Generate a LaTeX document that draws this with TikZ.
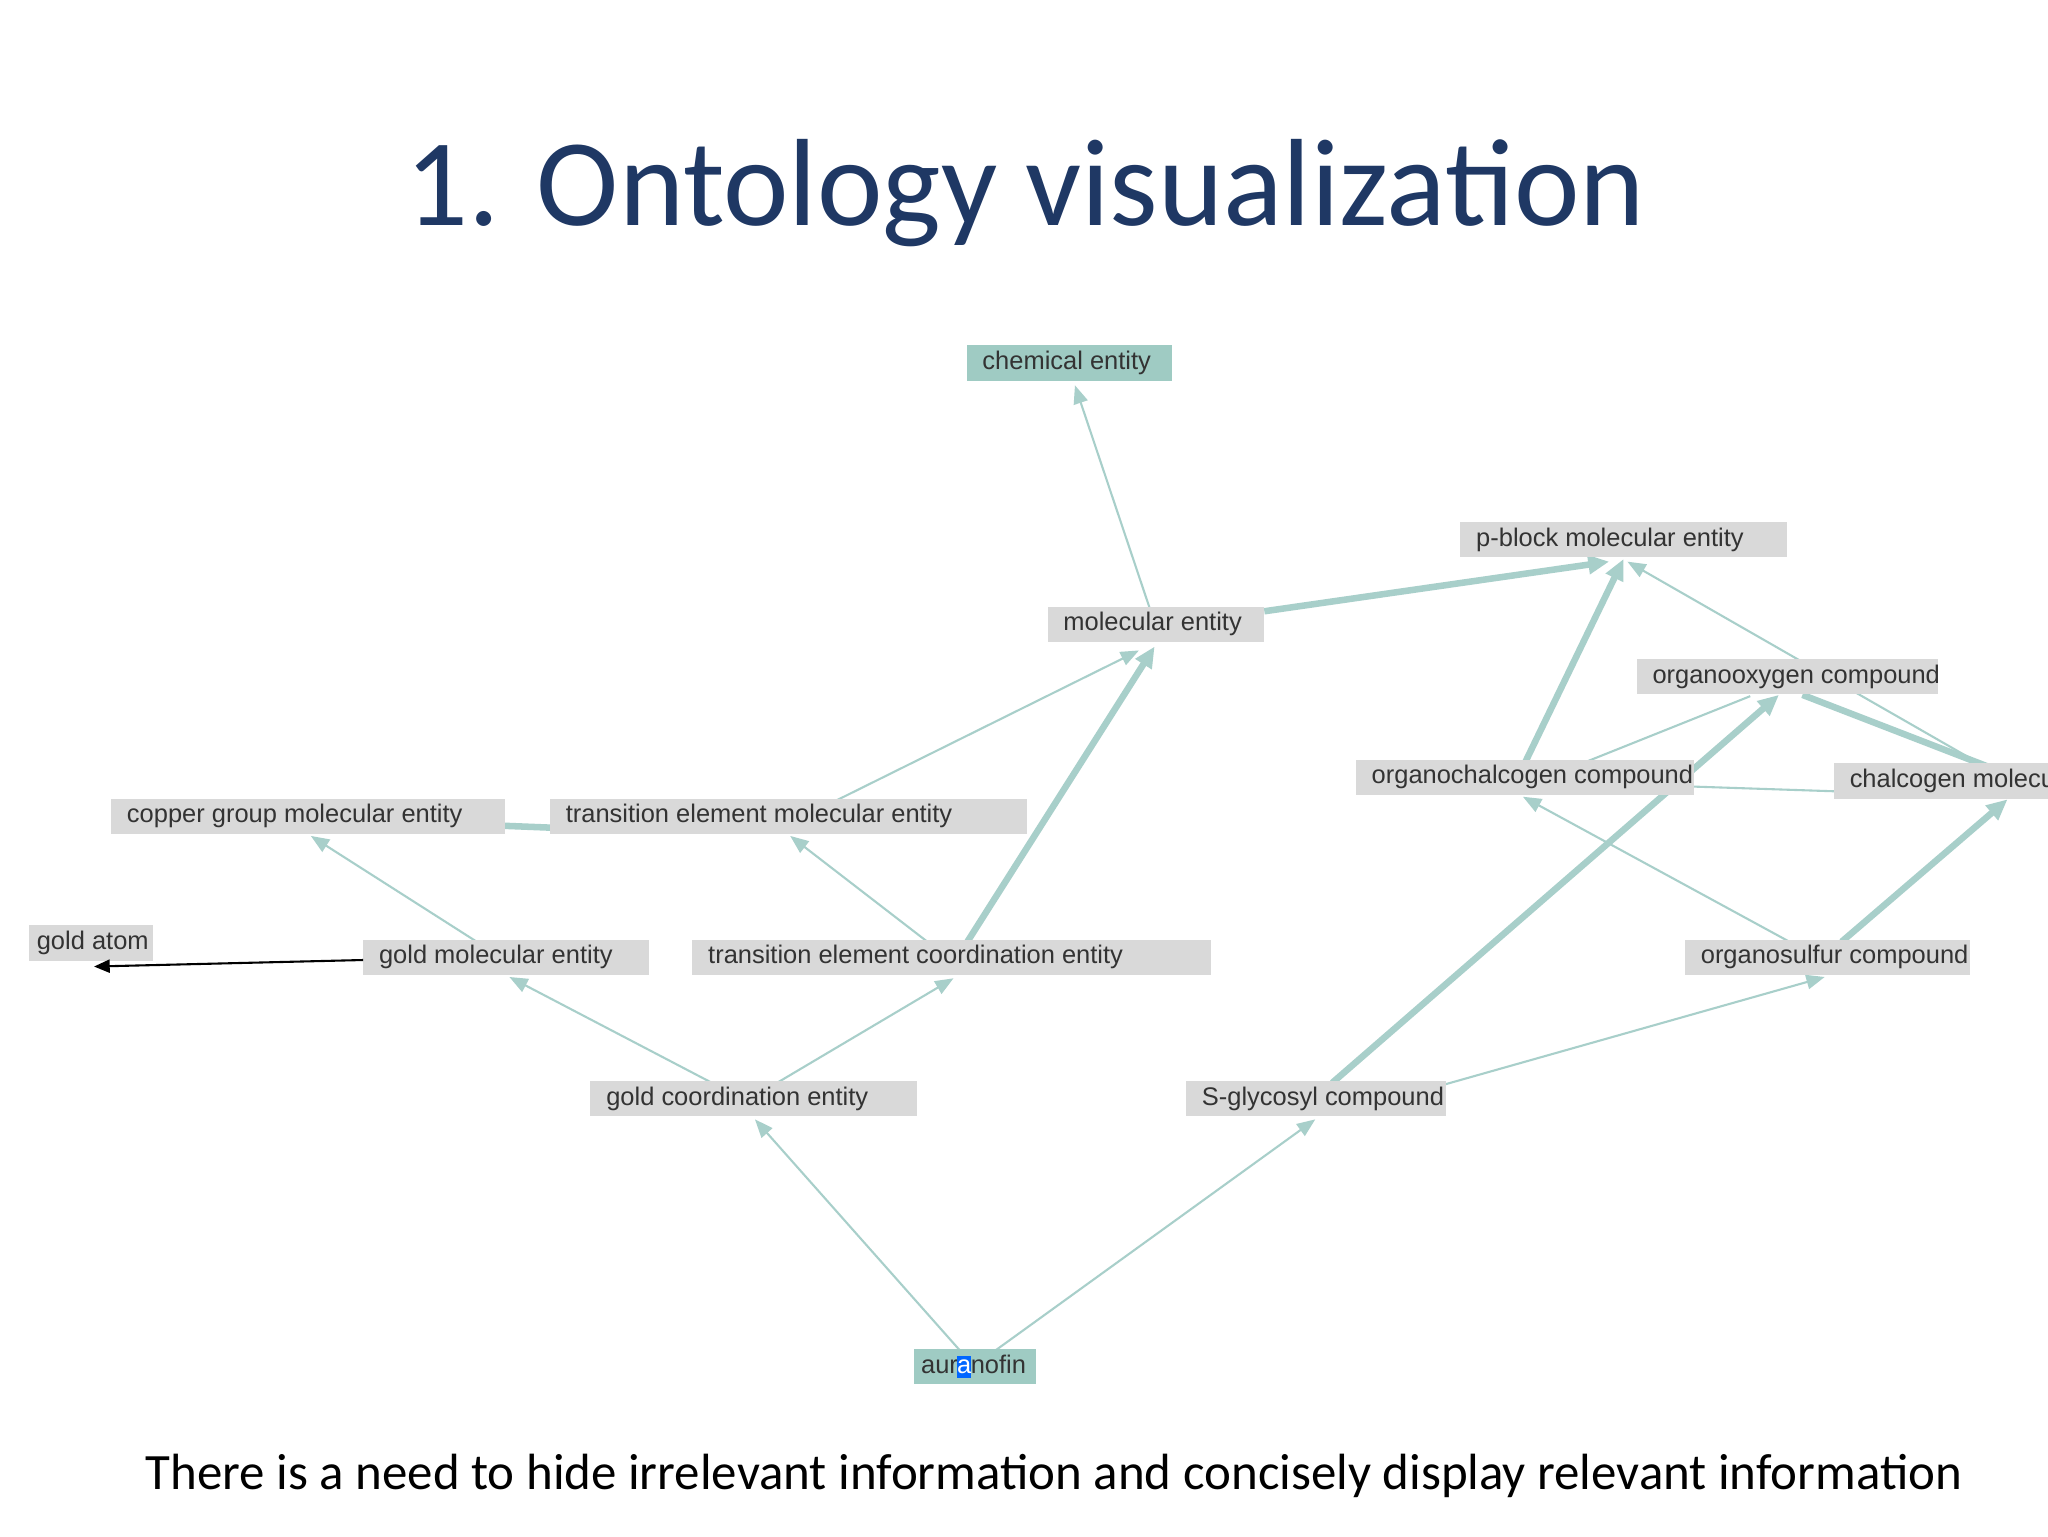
\documentclass[tikz,border=0pt]{standalone}
\usepackage{fontspec}
\setmainfont{Carlito}
\newfontfamily\lab{Liberation Sans}
\usetikzlibrary{arrows.meta}
\definecolor{edge}{HTML}{A8CFCA}
\definecolor{boxg}{HTML}{D9D9D9}
\definecolor{boxt}{HTML}{9FCBC3}
\definecolor{ttl}{HTML}{1F3864}
\tikzset{
 lbl/.style={inner sep=0pt,font=\lab\fontsize{19.5}{19.5}\selectfont,text=black!80,anchor=west},
 thin edge/.style={draw=edge,line width=1.6pt,-{Triangle[length=14pt,width=11pt]}},
 thick edge/.style={draw=edge,line width=5pt,-{Triangle[length=16pt,width=14pt]}},
}
\newcommand{\bx}[6]{\fill[#1] (#3,#5-13.5) rectangle (#4,#5+13.5); \node[lbl] (#2) at (#3+12,#5) {#6};}
\begin{document}
\begin{tikzpicture}[x=1pt,y=-1pt]
\fill[white] (0,0) rectangle (1568,1176);
\node[font=\fontsize{95}{95}\selectfont,text=ttl] (title) at (785,148) {1. Ontology visualization};
\node[font=\fontsize{39}{39}\selectfont] (cap) at (807,1130) {There is a need to hide irrelevant information and concisely display relevant information};
% edges first
\coordinate (a1) at (880,465); \coordinate (a2) at (823,295);
\draw[thin edge] (a1) -- (a2);
\coordinate (b1) at (968,468); \coordinate (b2) at (1232,430);
\draw[thick edge] (b1) -- (b2);
\coordinate (c1) at (640,613); \coordinate (c2) at (872,498);
\draw[thin edge] (c1) -- (c2);
\coordinate (d1) at (740,722); \coordinate (d2) at (884,495);
\draw[thick edge] (d1) -- (d2);
\coordinate (e1) at (380,632); \coordinate (e2) at (430,634);
\draw[draw=edge,line width=5pt] (e1) -- (e2);
\coordinate (f1) at (365,721); \coordinate (f2) at (238,640);
\draw[thin edge] (f1) -- (f2);
\coordinate (g1) at (710,721); \coordinate (g2) at (605,640);
\draw[thin edge] (g1) -- (g2);
\coordinate (h1) at (545,829); \coordinate (h2) at (390,748);
\draw[thin edge] (h1) -- (h2);
\coordinate (i1) at (595,829); \coordinate (i2) at (730,749);
\draw[thin edge] (i1) -- (i2);
\coordinate (j1) at (735,1034); \coordinate (j2) at (578,857);
\draw[thin edge] (j1) -- (j2);
\coordinate (k1) at (762,1034); \coordinate (k2) at (1007,857);
\draw[thin edge] (k1) -- (k2);
\coordinate (l1) at (1020,829); \coordinate (l2) at (1362,532);
\draw[thick edge] (l1) -- (l2);
\coordinate (m1) at (1100,832); \coordinate (m2) at (1397,748);
\draw[thin edge] (m1) -- (m2);
\coordinate (n1) at (1168,583); \coordinate (n2) at (1243,428);
\draw[thick edge] (n1) -- (n2);
\coordinate (o1) at (1215,583); \coordinate (o2) at (1340,533);
\draw[draw=edge,line width=1.6pt] (o1) -- (o2);
\coordinate (p1) at (1380,532); \coordinate (p2) at (1530,590);
\draw[draw=edge,line width=5pt] (p1) -- (p2);
\coordinate (q1) at (1525,590); \coordinate (q2) at (1246,430);
\draw[thin edge] (q1) -- (q2);
\coordinate (r1) at (1290,602); \coordinate (r2) at (1410,606);
\draw[draw=edge,line width=1.6pt] (r1) -- (r2);
\coordinate (s1) at (1370,721); \coordinate (s2) at (1166,610);
\draw[thin edge] (s1) -- (s2);
\coordinate (t1) at (1410,721); \coordinate (t2) at (1537,612);
\draw[thick edge] (t1) -- (t2);
% nodes
\bx{boxt}{chem}{740}{897}{278}{chemical entity}
\bx{boxg}{mol}{802}{968}{478}{molecular entity}
\bx{boxg}{pblock}{1118}{1368}{413}{p-block molecular entity}
\bx{boxg}{oxy}{1253}{1484}{518}{organooxygen compound}
\bx{boxg}{chalc}{1038}{1297}{595}{organochalcogen compound}
\begin{scope}
\clip (1300,560) rectangle (1568,640);
\bx{boxg}{chm}{1404}{1568}{598}{chalcogen molecular entity}
\end{scope}
\bx{boxg}{copper}{85}{387}{625}{copper group molecular entity}
\bx{boxg}{tem}{421}{786}{625}{transition element molecular entity}
\fill[boxg] (22,708.5) rectangle (117,735.5); \node[lbl] (goldatom) at (28,722) {gold atom};
\bx{boxg}{gme}{278}{497}{733}{gold molecular entity}
\bx{boxg}{tec}{530}{927}{733}{transition element coordination entity}
\bx{boxg}{osulf}{1290}{1508}{733}{organosulfur compound}
\bx{boxg}{gce}{452}{702}{841}{gold coordination entity}
\bx{boxg}{sgly}{908}{1107}{841}{S-glycosyl compound}
\fill[boxt] (700,1032.5) rectangle (793,1059.5);
\node[lbl] (aur) at (705,1046) {aur\kern-0.5pt\colorbox{blue!60!cyan}{\kern-3pt\textcolor{white}{a}\kern-3pt}\kern-0.5pt nofin};
\draw[black,line width=1.6pt,-{Triangle[length=12pt,width=10pt]}] (278,735) -- (72,740);
\end{tikzpicture}
\end{document}
